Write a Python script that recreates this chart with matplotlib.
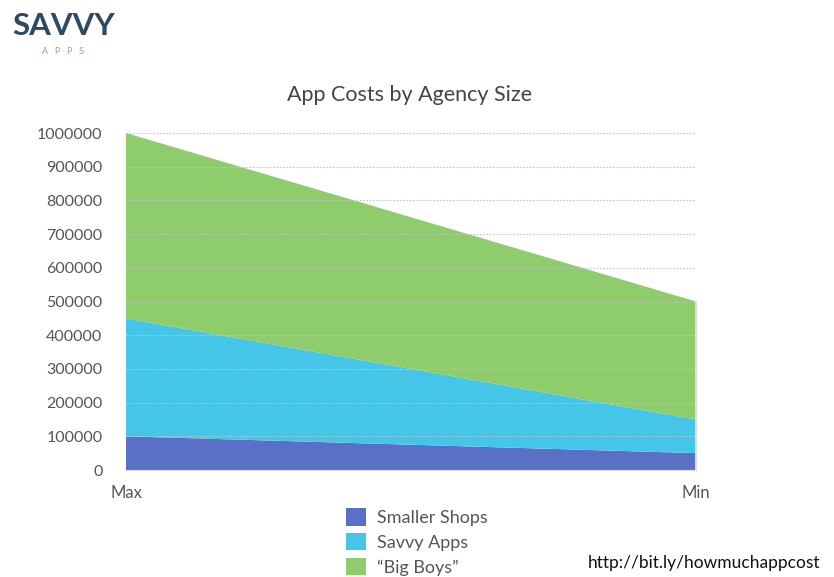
import matplotlib.pyplot as plt
import numpy as np

# Stacked cost ranges per agency type
X_LABELS = ["Max", "Min"]
SMALLER_SHOPS = [100000, 50000]
SAVVY_APPS = [350000, 100000]
BIG_BOYS = [550000, 350000]
SERIES_NAMES = ["Smaller Shops", "Savvy Apps", "\u201cBig Boys\u201d"]
Y_TICKS = [0, 100000, 200000, 300000, 400000, 500000, 600000, 700000, 800000, 900000, 1000000]

COLORS = ["#5a6fc6", "#45c6e8", "#8ecc6c"]
TEXT = "#555555"

plt.rcParams["font.family"] = ["Lato", "DejaVu Sans"]

fig = plt.figure(figsize=(8.34, 5.77), dpi=100)
fig.patch.set_facecolor("white")
ax = fig.add_axes([126 / 834, 1 - 470 / 577, 570 / 834, 337 / 577])

x = np.arange(len(X_LABELS))
ax.stackplot(x, SMALLER_SHOPS, SAVVY_APPS, BIG_BOYS, colors=COLORS,
             labels=SERIES_NAMES, linewidth=0)
# faint edge down the right side of the filled area
ax.plot([x[-1], x[-1]], [0, SMALLER_SHOPS[-1] + SAVVY_APPS[-1] + BIG_BOYS[-1]],
        color="#dddddd", linewidth=1.5, clip_on=False)

ax.set_xlim(0, 1)
ax.set_ylim(0, 1000000)
ax.set_yticks(Y_TICKS)
ax.set_yticklabels([str(v) for v in Y_TICKS], fontsize=11.5, color=TEXT)
ax.set_xticks(x)
ax.set_xticklabels(X_LABELS, fontsize=12, color=TEXT)
ax.tick_params(axis="y", length=0, pad=17)
ax.tick_params(axis="x", length=0, pad=11)
ax.grid(axis="y", linestyle=(0, (1.5, 1.5)), color="#c4c4c4", linewidth=0.8)
ax.set_axisbelow(False)
for s in ["top", "left", "right"]:
    ax.spines[s].set_visible(False)
ax.spines["bottom"].set_color("#dddddd")

fig.text(410 / 834, 1 - 95 / 577, "App Costs by Agency Size", fontsize=15.5,
         color="#444444", ha="center", va="center")

handles, labels = ax.get_legend_handles_labels()
fig.legend(handles, labels, loc="upper left", bbox_to_anchor=(332 / 834, 1 - 494 / 577),
           frameon=False, fontsize=13, labelcolor=TEXT, handlelength=1.1,
           handleheight=1.1, labelspacing=0.38, handletextpad=0.6, borderpad=0.3)

fig.text(820 / 834, 1 - 563 / 577, "http://bit.ly/howmuchappcost", fontsize=12.5,
         color="#111111", ha="right", va="center")

# logo
fig.text(12 / 834, 1 - 26 / 577, "SAVVY", fontsize=22.5, fontweight="bold",
         color="#2d4a63", ha="left", va="center")
fig.text(63 / 834, 1 - 51 / 577, "A   P   P   S", fontsize=6.5, color="#6aaee0",
         ha="center", va="center")

fig.savefig("out.png", dpi=100, facecolor="white")
